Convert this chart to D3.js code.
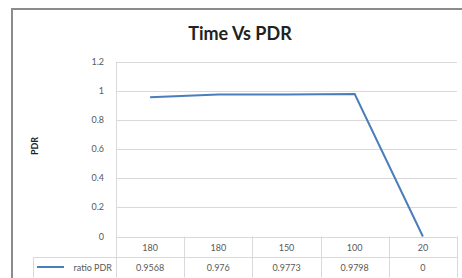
<!DOCTYPE html>
<html lang="en">
<head>
<meta charset="utf-8">
<title>Time Vs PDR</title>
<style>
    body { margin: 0; background: #fff; }
    svg { display: block; font-family: Lato, "Open Sans", sans-serif; }
    .grid line { stroke: #d9d9d9; stroke-width: 1; }
    .tick-label { fill: #595959; font-size: 9px; }
    .cell { fill: #595959; font-size: 9px; }
    .series { fill: none; stroke: #4a7ebb; stroke-width: 2; }
</style>
</head>
<body>
<div id="chart"></div>
<script src="https://d3js.org/d3.v7.min.js"></script>
<script>
    // data
    var categories = ["180", "180", "150", "100", "20"];
    var ratioPDR = [0.9568, 0.976, 0.9773, 0.9798, 0];
    var valueLabels = ["0.9568", "0.976", "0.9773", "0.9798", "0"];
    var yTicks = [0, 0.2, 0.4, 0.6, 0.8, 1, 1.2];
    var seriesName = "ratio PDR";

    var W = 462, H = 278;
    var plot = { left: 116, right: 457, top: 62, bottom: 236.5 };
    var rowH = 20.5;
    var legendLeft = 33;

    var svg = d3.select("#chart").append("svg")
        .attr("width", W)
        .attr("height", H);

    // outer chart frame (only top/left visible, rest is cut off)
    svg.append("rect")
        .attr("x", 12).attr("y", 9)
        .attr("width", W + 20).attr("height", H + 20)
        .attr("fill", "#fff")
        .attr("stroke", "#8c8c8c")
        .attr("stroke-width", 2);

    svg.append("text")
        .attr("x", 240).attr("y", 40)
        .attr("text-anchor", "middle")
        .style("font-size", "18px")
        .style("font-weight", "bold")
        .attr("fill", "#222")
        .text("Time Vs PDR");

    var x = d3.scaleBand()
        .domain(d3.range(categories.length))
        .range([plot.left, plot.right]);

    var y = d3.scaleLinear()
        .domain([0, 1.2])
        .range([plot.bottom, plot.top]);

    // gridlines
    svg.append("g").attr("class", "grid")
        .selectAll("line")
        .data(yTicks)
        .enter().append("line")
        .attr("x1", plot.left).attr("x2", plot.right)
        .attr("y1", function(d) { return Math.round(y(d)) + 0.5; })
        .attr("y2", function(d) { return Math.round(y(d)) + 0.5; });

    // y tick labels
    svg.selectAll(".tick-label")
        .data(yTicks)
        .enter().append("text")
        .attr("class", "tick-label")
        .attr("x", 104)
        .attr("y", function(d) { return y(d) + 3; })
        .attr("text-anchor", "end")
        .text(function(d) { return d; });

    // vertical axis line
    svg.append("line")
        .attr("x1", plot.left + 0.5).attr("x2", plot.left + 0.5)
        .attr("y1", plot.top).attr("y2", plot.bottom + rowH * 2)
        .attr("stroke", "#d9d9d9");

    // y axis title
    svg.append("text")
        .attr("transform", "translate(38,146) rotate(-90)")
        .attr("text-anchor", "middle")
        .style("font-size", "9px")
        .style("font-weight", "bold")
        .attr("fill", "#222")
        .text("PDR");

    // data table
    var table = svg.append("g").attr("class", "grid");
    var rowY = [plot.bottom, plot.bottom + rowH, plot.bottom + rowH * 2];
    table.append("line")
        .attr("x1", plot.left).attr("x2", plot.right)
        .attr("y1", Math.round(rowY[0]) + 0.5).attr("y2", Math.round(rowY[0]) + 0.5);
    table.selectAll(".hrow")
        .data(rowY.slice(1))
        .enter().append("line")
        .attr("x1", legendLeft).attr("x2", plot.right)
        .attr("y1", function(d) { return Math.round(d) + 0.5; })
        .attr("y2", function(d) { return Math.round(d) + 0.5; });
    table.selectAll(".vcol")
        .data(d3.range(categories.length))
        .enter().append("line")
        .attr("x1", function(i) { return Math.round(x(i) + x.bandwidth()) + 0.5; })
        .attr("x2", function(i) { return Math.round(x(i) + x.bandwidth()) + 0.5; })
        .attr("y1", rowY[0]).attr("y2", rowY[2]);
    table.append("line")
        .attr("x1", legendLeft + 0.5).attr("x2", legendLeft + 0.5)
        .attr("y1", rowY[1]).attr("y2", rowY[2]);

    svg.selectAll(".cat")
        .data(categories)
        .enter().append("text")
        .attr("class", "cell")
        .attr("x", function(d, i) { return x(i) + x.bandwidth() / 2; })
        .attr("y", rowY[0] + 14)
        .attr("text-anchor", "middle")
        .text(function(d) { return d; });

    svg.selectAll(".val")
        .data(valueLabels)
        .enter().append("text")
        .attr("class", "cell")
        .attr("x", function(d, i) { return x(i) + x.bandwidth() / 2; })
        .attr("y", rowY[1] + 14)
        .attr("text-anchor", "middle")
        .text(function(d) { return d; });

    // legend key in the table
    svg.append("line")
        .attr("x1", 37).attr("x2", 64)
        .attr("y1", rowY[1] + 10).attr("y2", rowY[1] + 10)
        .attr("class", "series");
    svg.append("text")
        .attr("class", "cell")
        .attr("x", 112).attr("y", rowY[1] + 14)
        .attr("text-anchor", "end")
        .text(seriesName);

    // series line
    var line = d3.line()
        .x(function(d, i) { return x(i) + x.bandwidth() / 2; })
        .y(function(d) { return y(d); });

    svg.append("path")
        .datum(ratioPDR)
        .attr("class", "series")
        .attr("d", line);
</script>
</body>
</html>
